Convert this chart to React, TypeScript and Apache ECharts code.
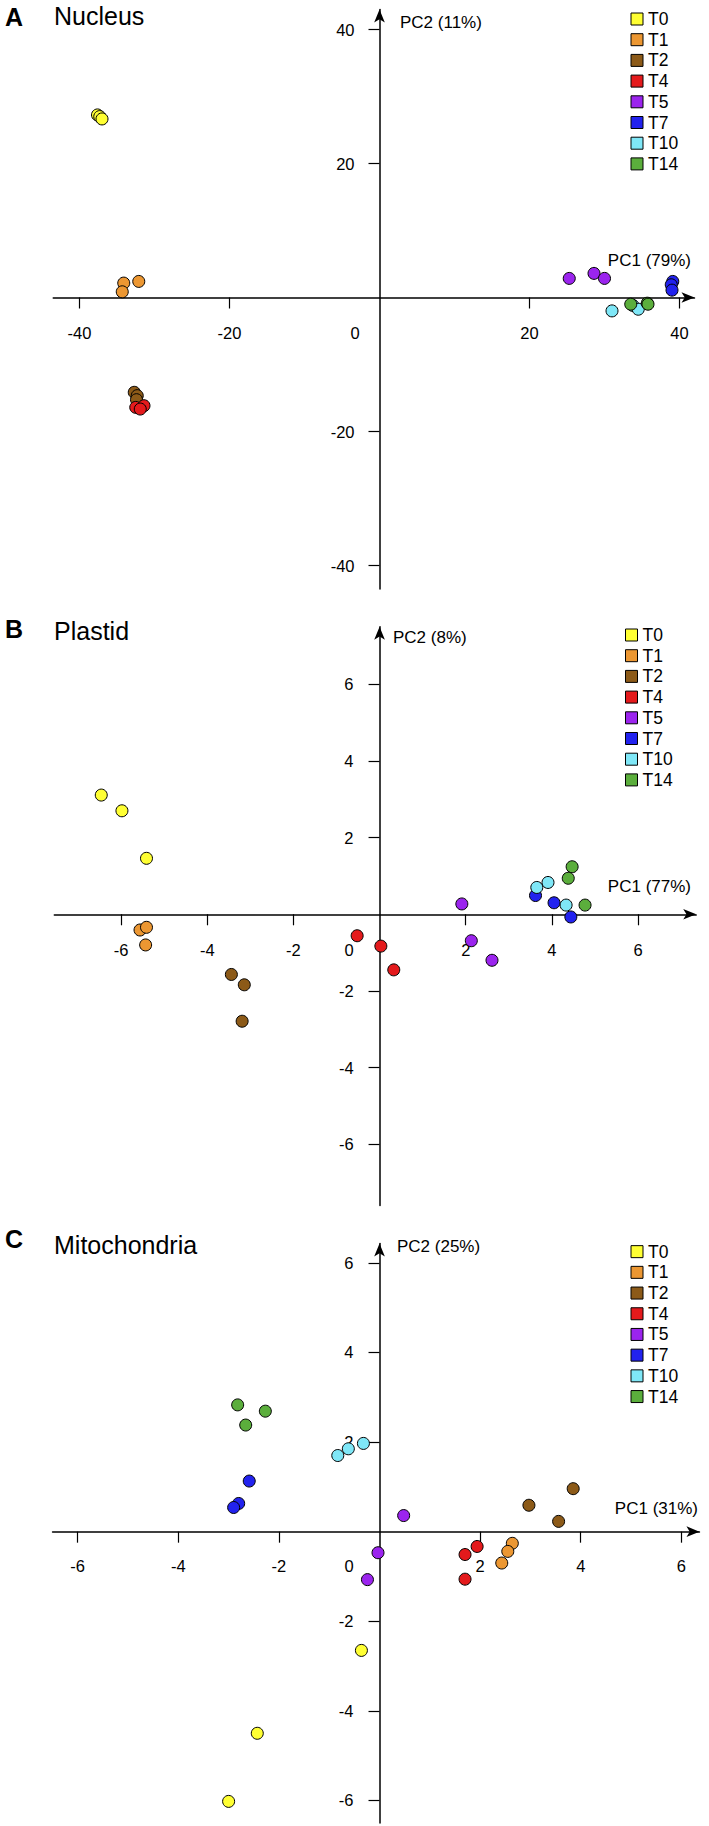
import React, { useEffect, useRef } from 'react';
import * as echarts from 'echarts';

const FONT = '"Liberation Sans", Arial, Helvetica, sans-serif';

const groups = ['T0', 'T1', 'T2', 'T4', 'T5', 'T7', 'T10', 'T14'];
const groupColors = ['#FFFF33', '#EC9732', '#8C5A18', '#E41A1C', '#9B24EE', '#2222EE', '#7FE7F7', '#5BAE3C'];

// Panel A: Nucleus (PC1 / PC2 scores, three replicates per time point)
const nucleusPC1 = [
  [-37.6, -37.3, -37.0],
  [-34.1, -32.1, -34.3],
  [-32.7, -32.3, -32.4],
  [-32.5, -31.4, -31.9],
  [25.3, 28.6, 30.0],
  [39.1, 38.9, 39.0],
  [31.0, 33.8, 34.5],
  [33.5, 35.7, 35.8],
];
const nucleusPC2 = [
  [27.25, 27.0, 26.65],
  [2.15, 2.4, 0.85],
  [-14.15, -14.65, -15.25],
  [-16.4, -16.15, -16.65],
  [2.85, 3.6, 2.85],
  [2.4, 1.9, 1.1],
  [-2.0, -1.2, -1.75],
  [-1.0, -0.85, -1.0],
];

// Panel B: Plastid
const plastidPC1 = [
  [-6.46, -5.98, -5.41],
  [-5.56, -5.41, -5.43],
  [-3.44, -3.14, -3.19],
  [-0.52, 0.03, 0.33],
  [1.91, 2.13, 2.61],
  [3.62, 4.05, 4.44],
  [3.65, 3.91, 4.33],
  [4.47, 4.38, 4.77],
];
const plastidPC2 = [
  [3.11, 2.7, 1.46],
  [-0.41, -0.34, -0.8],
  [-1.57, -1.84, -2.79],
  [-0.56, -0.83, -1.45],
  [0.27, -0.69, -1.2],
  [0.49, 0.3, -0.07],
  [0.7, 0.83, 0.24],
  [1.24, 0.94, 0.24],
];

// Panel C: Mitochondria
const mitoPC1 = [
  [-0.36, -2.43, -3.0],
  [2.64, 2.55, 2.43],
  [3.85, 2.97, 3.56],
  [1.94, 1.7, 1.7],
  [0.48, -0.03, -0.24],
  [-2.59, -2.8, -2.9],
  [-0.83, -0.62, -0.32],
  [-2.82, -2.27, -2.66],
];
const mitoPC2 = [
  [-2.65, -4.5, -6.02],
  [-0.26, -0.44, -0.7],
  [0.96, 0.59, 0.23],
  [-0.33, -0.51, -1.06],
  [0.36, -0.47, -1.07],
  [1.13, 0.63, 0.54],
  [1.7, 1.85, 1.97],
  [2.83, 2.69, 2.38],
];

const nucleusXTicks = [-40, -20, 20, 40];
const nucleusYTicks = [-40, -20, 20, 40];
const plastidXTicks = [-6, -4, -2, 2, 4, 6];
const plastidYTicks = [-6, -4, -2, 2, 4, 6];
const mitoXTicks = [-6, -4, -2, 2, 4, 6];
const mitoYTicks = [-6, -4, -2, 2, 4, 6];

const letters = ['A', 'B', 'C'];
const titles = ['Nucleus', 'Plastid', 'Mitochondria'];
const pc1Labels = ['PC1 (79%)', 'PC1 (77%)', 'PC1 (31%)'];
const pc2Labels = ['PC2 (11%)', 'PC2 (8%)', 'PC2 (25%)'];

// layout (pixels) for each panel
const panels = [
  {
    pc1: nucleusPC1, pc2: nucleusPC2, xTicks: nucleusXTicks, yTicks: nucleusYTicks,
    xMin: -43.5, xMax: 42, yMin: -43.5, yMax: 43,
    left: 53.25, width: 641.25, top: 9.4, height: 579.55,
    zeroPad: 49, xMargin: 27, yMargin: 25,
    legendLeft: 630.5, legendTop: 8.65,
    letterY: 17, titleY: 15.5, pc2X: 400, pc2Y: 22, pc1R: 691, pc1Y: 260,
  },
  {
    pc1: plastidPC1, pc2: plastidPC2, xTicks: plastidXTicks, yTicks: plastidYTicks,
    xMin: -7.55, xMax: 7.35, yMin: -7.6, yMax: 7.5,
    left: 54.3, width: 641.9, top: 626.8, height: 578.8,
    zeroPad: 61, xMargin: 27, yMargin: 26,
    legendLeft: 625, legendTop: 624.65,
    letterY: 629, titleY: 630.5, pc2X: 393, pc2Y: 637, pc1R: 691, pc1Y: 886.7,
  },
  {
    pc1: mitoPC1, pc2: mitoPC2, xTicks: mitoXTicks, yTicks: mitoYTicks,
    xMin: -6.5, xMax: 6.36, yMin: -6.5, yMax: 6.43,
    left: 52.55, width: 646.9, top: 1243.6, height: 579.3,
    zeroPad: 61, xMargin: 26, yMargin: 26,
    legendLeft: 630.5, legendTop: 1241.3,
    letterY: 1239, titleY: 1245, pc2X: 397, pc2Y: 1246.7, pc1R: 698, pc1Y: 1508,
  },
];

function axisLine() {
  return {
    show: true,
    onZero: false,
    symbol: ['none', 'arrow'],
    symbolSize: [8, 13],
    lineStyle: { color: '#000', width: 1.5 },
  };
}

function hiddenAxis(gridIndex: number, min: number, max: number) {
  return { gridIndex, type: 'value', min, max, show: false, axisLine: { onZero: false } };
}

function buildOption() {
  const grid: any[] = [];
  const xAxis: any[] = [];
  const yAxis: any[] = [];
  const series: any[] = [];
  const legend: any[] = [];
  const graphic: any[] = [];

  panels.forEach((p, i) => {
    // pixel of value 0 on each axis (derived from the same layout)
    const zeroY = p.top + (p.height * p.yMax) / (p.yMax - p.yMin);
    const zeroX = p.left + (p.width * -p.xMin) / (p.xMax - p.xMin);
    const g0 = 3 * i;
    // data grid
    grid.push({ left: p.left, top: p.top, width: p.width, height: p.height, containLabel: false, outerBoundsMode: 'none' });
    // grid whose bottom edge is the PC1 axis (y = 0)
    grid.push({ left: p.left, top: p.top, width: p.width, height: zeroY - p.top, containLabel: false, outerBoundsMode: 'none' });
    // grid whose left edge is the PC2 axis (x = 0)
    grid.push({ left: zeroX, top: p.top, width: p.left + p.width - zeroX, height: p.height, containLabel: false, outerBoundsMode: 'none' });

    xAxis.push(hiddenAxis(g0, p.xMin, p.xMax));
    xAxis.push({
      gridIndex: g0 + 1,
      type: 'value',
      position: 'bottom',
      min: p.xMin,
      max: p.xMax,
      axisLine: axisLine(),
      axisTick: { show: true, inside: false, length: 11, customValues: p.xTicks, lineStyle: { color: '#000', width: 1.2 } },
      axisLabel: {
        show: true,
        customValues: [...p.xTicks, 0].sort((a, b) => a - b),
        margin: p.xMargin,
        color: '#000',
        fontSize: 16.5,
        fontFamily: FONT,
        formatter: (v: number) => (v === 0 ? '{z|0}' : String(v)),
        rich: { z: { padding: [0, p.zeroPad, 0, 0], fontSize: 16.5, fontFamily: FONT, color: '#000' } },
      },
      splitLine: { show: false },
    });
    xAxis.push(hiddenAxis(g0 + 2, 0, 1));

    yAxis.push(hiddenAxis(g0, p.yMin, p.yMax));
    yAxis.push(hiddenAxis(g0 + 1, 0, 1));
    yAxis.push({
      gridIndex: g0 + 2,
      type: 'value',
      position: 'left',
      min: p.yMin,
      max: p.yMax,
      axisLine: axisLine(),
      axisTick: { show: true, inside: false, length: 11, customValues: p.yTicks, lineStyle: { color: '#000', width: 1.2 } },
      axisLabel: {
        show: true,
        customValues: p.yTicks,
        margin: p.yMargin,
        color: '#000',
        fontSize: 16.5,
        fontFamily: FONT,
        formatter: (v: number) => String(v),
      },
      splitLine: { show: false },
    });

    groups.forEach((g, gi) => {
      series.push({
        type: 'scatter',
        name: g,
        xAxisIndex: g0,
        yAxisIndex: g0,
        symbol: 'circle',
        symbolSize: 12,
        itemStyle: { color: groupColors[gi], borderColor: '#000', borderWidth: 1, opacity: 1 },
        emphasis: { disabled: true },
        z: 3,
        data: p.pc1[gi].map((x, k) => [x, p.pc2[gi][k]]),
      });
    });
    legend.push({
      show: true,
      data: groups,
      orient: 'vertical',
      left: p.legendLeft,
      top: p.legendTop,
      padding: 0,
      itemGap: 0,
      itemWidth: 12,
      itemHeight: 12,
      icon: 'rect',
      selectedMode: false,
      itemStyle: { borderColor: '#000', borderWidth: 1 },
      textStyle: { fontSize: 17.5, fontFamily: FONT, color: '#000', lineHeight: 20.7 },
    });
    graphic.push(
      {
        type: 'text', x: 5, y: p.letterY,
        style: { text: letters[i], fontSize: 25, fontWeight: 'bold', fontFamily: FONT, fill: '#000', align: 'left', verticalAlign: 'middle', textAlign: 'left', textVerticalAlign: 'middle' },
      },
      {
        type: 'text', x: 54, y: p.titleY,
        style: { text: titles[i], fontSize: 25, fontFamily: FONT, fill: '#000', align: 'left', verticalAlign: 'middle', textAlign: 'left', textVerticalAlign: 'middle' },
      },
      {
        type: 'text', x: p.pc2X, y: p.pc2Y,
        style: { text: pc2Labels[i], fontSize: 17, fontFamily: FONT, fill: '#000', align: 'left', verticalAlign: 'middle', textAlign: 'left', textVerticalAlign: 'middle' },
      },
      {
        type: 'text', x: p.pc1R, y: p.pc1Y,
        style: { text: pc1Labels[i], fontSize: 17, fontFamily: FONT, fill: '#000', align: 'right', verticalAlign: 'middle', textAlign: 'right', textVerticalAlign: 'middle' },
      }
    );
  });

  return {
    animation: false,
    backgroundColor: '#fff',
    grid,
    xAxis,
    yAxis,
    series,
    legend,
    graphic,
  };
}

export default function App() {
  const ref = useRef<HTMLDivElement | null>(null);
  useEffect(() => {
    if (!ref.current) return;
    const chart = echarts.init(ref.current, null, { renderer: 'svg' });
    chart.setOption(buildOption() as any);
    return () => {
      chart.dispose();
    };
  }, []);
  return (
    <div
      ref={ref}
      style={{ position: 'absolute', left: 0, top: 0, width: 709, height: 1826, background: '#fff' }}
    />
  );
}
